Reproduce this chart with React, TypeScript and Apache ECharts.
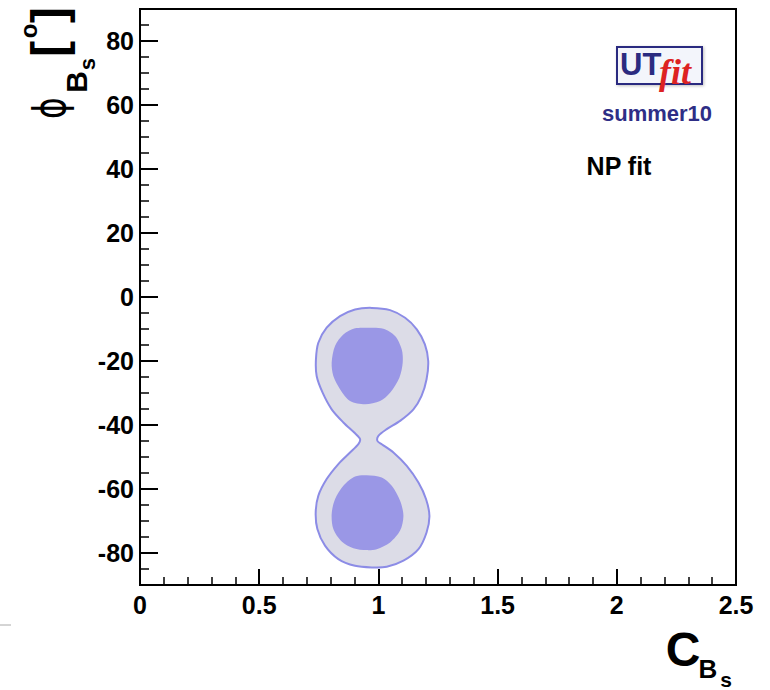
import React, { useEffect, useRef } from "react";
import * as echarts from "echarts";

// 95% probability contour (outer, light) and 68% contours (inner, dark), [C_Bs, phi_Bs]
const outerContour: [number, number][] = [
  [0.972, -3.4], [1.049, -4.1], [1.112, -6.5], [1.161, -10.1], [1.195, -14.8], [1.209, -20.0],
  [1.202, -25.7], [1.181, -30.9], [1.147, -35.1], [1.091, -38.7], [1.035, -41.3], [1.0, -43.4],
  [0.996, -45.0], [1.014, -46.0], [1.063, -48.6], [1.119, -52.8], [1.168, -58.0], [1.2, -63.2],
  [1.214, -68.4], [1.202, -73.6], [1.168, -78.8], [1.105, -82.4], [1.035, -84.3], [0.972, -84.5],
  [0.902, -84.0], [0.832, -81.9], [0.776, -77.7], [0.744, -72.5], [0.737, -67.3], [0.748, -62.1],
  [0.783, -56.9], [0.832, -52.2], [0.881, -48.6], [0.916, -46.0], [0.923, -44.4], [0.902, -42.6],
  [0.853, -39.2], [0.804, -35.1], [0.766, -29.9], [0.741, -24.7], [0.738, -19.5], [0.748, -14.3],
  [0.783, -9.6], [0.839, -6.0], [0.902, -3.9],
];
const innerUpper: [number, number][] = [
  [0.951, -9.6], [1.021, -9.9], [1.07, -12.2], [1.098, -16.4], [1.102, -20.5], [1.088, -25.2],
  [1.049, -29.9], [1.007, -32.5], [0.944, -33.5], [0.881, -32.5], [0.839, -28.8], [0.811, -24.7],
  [0.804, -20.5], [0.818, -15.3], [0.853, -11.7], [0.902, -9.8],
];
const innerLower: [number, number][] = [
  [0.951, -55.7], [1.014, -56.4], [1.056, -59.0], [1.091, -63.7], [1.105, -68.4], [1.091, -73.0],
  [1.049, -76.7], [0.993, -78.8], [0.951, -79.1], [0.895, -78.5], [0.846, -76.4], [0.811, -72.5],
  [0.804, -67.8], [0.818, -63.2], [0.853, -59.0], [0.902, -56.1],
];
const yMajorTicks = [-80, -60, -40, -20, 0, 20, 40, 60, 80];
const xRange = [0, 2.5];
const yRange = [-90, 90];

const FONT = "'Liberation Sans', Arial, Helvetica, sans-serif";

function txt(text: string, x: number, y: number, size: number, opts: any = {}) {
  const align = opts.align || "center";
  const valign = opts.valign || "middle";
  return {
    type: "text",
    x,
    y,
    rotation: opts.rotation || 0,
    scaleX: opts.scaleX || 1,
    scaleY: opts.scaleY || 1,
    silent: true,
    style: {
      text,
      fontSize: size,
      fontWeight: opts.weight || "bold",
      fontStyle: opts.italic ? "italic" : "normal",
      fontFamily: opts.family || FONT,
      fill: opts.color || "#000",
      align,
      verticalAlign: valign,
      textAlign: align,
      textVerticalAlign: valign,
    },
  };
}

export default function App() {
  const ref = useRef<HTMLDivElement>(null);
  useEffect(() => {
    const chart = echarts.init(ref.current!, null, { renderer: "svg" });
    const polys = [outerContour, innerUpper, innerLower];
    const styles = [
      { fill: "#dcdce7", stroke: "#8c8ce6", lineWidth: 2 },
      { fill: "#9a97e6", stroke: null, lineWidth: 0 },
      { fill: "#9a97e6", stroke: null, lineWidth: 0 },
    ];
    const R = Math.PI / 2;
    chart.setOption({
      animation: false,
      backgroundColor: "#fff",
      grid: {
        left: 140, top: 9, right: 34, bottom: 105,
        show: true, borderColor: "#000", borderWidth: 2, backgroundColor: "transparent",
      },
      xAxis: {
        type: "value", min: xRange[0], max: xRange[1], interval: 0.5,
        axisLine: { show: true, onZero: false, lineStyle: { color: "#000", width: 2 } },
        axisTick: { show: true, inside: true, length: 16, lineStyle: { color: "#000", width: 2 } },
        minorTick: { show: true, splitNumber: 5, length: 8, lineStyle: { color: "#000", width: 1.5 } },
        splitLine: { show: false },
        minorSplitLine: { show: false },
        axisLabel: {
          fontFamily: FONT, fontWeight: "bold", fontSize: 25, color: "#000", margin: 7,
          showMinLabel: true, showMaxLabel: true,
        },
      },
      yAxis: [
        {
          type: "value", min: yRange[0], max: yRange[1], interval: 5,
          axisLine: { show: true, onZero: false, lineStyle: { color: "#000", width: 2 } },
          axisTick: { show: true, inside: true, length: 9, lineStyle: { color: "#000", width: 1.5 } },
          splitLine: { show: false },
          axisLabel: {
            customValues: yMajorTicks,
            fontFamily: FONT, fontWeight: "bold", fontSize: 25, color: "#000", margin: 6,
          },
        },
        {
          type: "value", min: yRange[0], max: yRange[1], position: "left",
          axisLine: { show: false },
          axisTick: { show: true, inside: true, length: 18, customValues: yMajorTicks, lineStyle: { color: "#000", width: 2 } },
          axisLabel: { show: false },
          splitLine: { show: false },
        },
      ],
      series: [
        {
          type: "custom",
          coordinateSystem: "cartesian2d",
          xAxisIndex: 0,
          yAxisIndex: 0,
          silent: true,
          data: [[1, -20], [1, -20], [1, -68]],
          renderItem: (params: any, api: any) => {
            const i = params.dataIndex;
            const pts = polys[i].map((p) => api.coord(p));
            return {
              type: "polygon",
              shape: { points: pts, smooth: 0.3 },
              style: styles[i],
            };
          },
        },
      ],
      graphic: [
        // logo
        {
          type: "rect", silent: true,
          shape: { x: 617, y: 47, width: 85, height: 37 },
          style: { fill: "#f3f5fb", stroke: "#2b2b80", lineWidth: 2, shadowBlur: 3, shadowColor: "rgba(0,0,0,0.25)", shadowOffsetX: 1, shadowOffsetY: 1 },
        },
        txt("UT", 620, 64, 31, { align: "left", color: "#2b2b80" }),
        txt("fit", 659, 72, 36, { align: "left", color: "#dd2222", italic: true, weight: "bold", family: "'Liberation Serif', 'Times New Roman', serif" }),
        txt("summer10", 657, 113, 22, { color: "#2e2e86" }),
        txt("NP fit", 619, 166, 25),
        // x axis title
        txt("C", 683, 649, 48),
        txt("B", 708, 669, 26),
        txt("s", 726, 679, 21),
        // y axis title
        txt("\u03D5", 50, 108, 44, { rotation: R, weight: "normal", family: "'DejaVu Sans', sans-serif", scaleX: 0.75 }),
        txt("B", 76, 82, 30, { rotation: R }),
        txt("s", 87, 64, 22, { rotation: R }),
        txt("[", 48, 49, 48, { rotation: R }),
        txt("o", 28, 31, 24, { rotation: R }),
        txt("]", 48, 15, 48, { rotation: R }),
        {
          type: "line", silent: true,
          shape: { x1: 0, y1: 625, x2: 11, y2: 625 },
          style: { stroke: "#aaa", lineWidth: 1 },
        },
      ],
    });
    return () => chart.dispose();
  }, []);
  return (
    <div
      ref={ref}
      style={{ position: "fixed", left: 0, top: 0, width: 770, height: 690 }}
    />
  );
}
